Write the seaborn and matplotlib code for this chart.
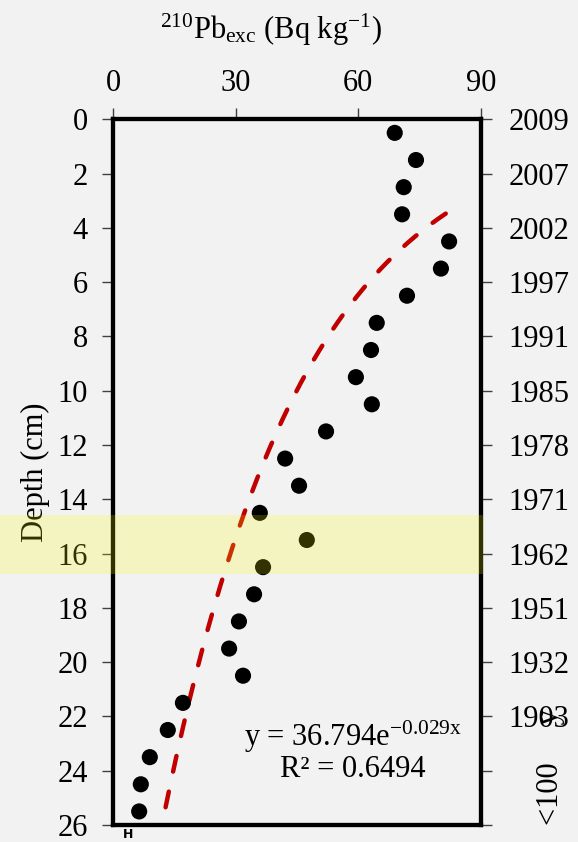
import numpy as np
import pandas as pd
import matplotlib
matplotlib.use("Agg")
import matplotlib.pyplot as plt
import seaborn as sns
from matplotlib.patches import Rectangle
from matplotlib.transforms import blended_transform_factory

# ---------------- data ----------------
depth = [0.5, 1.5, 2.5, 3.5, 4.5, 5.5, 6.5, 7.5, 8.5, 9.5, 10.5, 11.5, 12.5,
         13.5, 14.5, 15.5, 16.5, 17.5, 18.5, 19.5, 20.5, 21.5, 22.5, 23.5,
         24.5, 25.5]
pb_exc = [68.9, 74.1, 71.1, 70.7, 82.2, 80.2, 71.9, 64.5, 63.1, 59.4, 63.3,
          52.1, 42.1, 45.5, 35.9, 47.4, 36.7, 34.5, 30.8, 28.4, 31.8, 17.1,
          13.4, 9.0, 6.8, 6.4]
fit_a = 36.794
fit_b = -0.029
r2 = 0.6494
x_ticks = [0, 30, 60, 90]
depth_ticks = [0, 2, 4, 6, 8, 10, 12, 14, 16, 18, 20, 22, 24, 26]
year_labels = ["2009", "2007", "2002", "1997", "1991", "1985", "1978",
               "1971", "1962", "1951", "1932", "1903", "", ""]
band_depth = [14.58, 16.76]

# ---------------- style ----------------
sns.set_theme(style="white")
plt.rcParams["font.family"] = ["Liberation Serif", "DejaVu Serif"]
plt.rcParams["mathtext.fontset"] = "custom"
plt.rcParams["mathtext.rm"] = "Liberation Serif"
plt.rcParams["mathtext.it"] = "Liberation Serif:italic"
plt.rcParams["mathtext.bf"] = "Liberation Serif:bold"
for k in ["text.color", "axes.labelcolor", "xtick.labelcolor", "ytick.labelcolor"]:
    plt.rcParams[k] = "black"

BG = "#f2f2f2"
FS = 22

fig = plt.figure(figsize=(5.78, 8.42), dpi=100, facecolor=BG)
L, R, T, B = 113, 481, 119.3, 825
W, H = 578, 842
ax = fig.add_axes([L / W, 1 - B / H, (R - L) / W, (B - T) / H])
ax.set_facecolor(BG)

df = pd.DataFrame({"Pb": pb_exc, "Depth": depth})
sns.scatterplot(data=df, x="Pb", y="Depth", ax=ax, color="black", s=135,
                edgecolor="none", zorder=3)

# exponential trendline: depth = a * exp(b * Pb) over the data range
pb_line = np.linspace(min(pb_exc), max(pb_exc), 300)
fit_df = pd.DataFrame({"Pb": pb_line, "Depth": fit_a * np.exp(fit_b * pb_line)})
sns.lineplot(data=fit_df, x="Pb", y="Depth", ax=ax, color="#c00000",
             linewidth=3.2, sort=False, zorder=2)
ln = ax.lines[-1]
ln.set_linestyle((0, (3.6, 4.6)))
ln.set_dash_capstyle("round")

ax.set_xlim(0, 90)
ax.set_ylim(26, 0)
ax.xaxis.tick_top()
ax.xaxis.set_label_position("top")
ax.set_xticks(x_ticks)
ax.set_xticklabels([str(v) for v in x_ticks])
ax.set_yticks(depth_ticks)
ax.set_yticklabels([str(v) for v in depth_ticks])
ax.set_xlabel("")
ax.set_ylabel("Depth (cm)", fontsize=FS)
ax.yaxis.set_label_coords(-0.17, 0.5)
ax.tick_params(axis="x", which="both", top=True, bottom=False, direction="out",
               length=8, width=1, color="#404040", labelsize=FS, pad=7)
ax.tick_params(axis="y", which="both", left=True, right=False, direction="out",
               length=8, width=1, color="#404040", labelsize=FS, pad=10)
for s in ax.spines.values():
    s.set_linewidth(3)
    s.set_color("black")

ax2 = ax.twinx()
ax2.set_ylim(26, 0)
ax2.set_yticks(depth_ticks)
ax2.set_yticklabels(year_labels)
ax2.tick_params(axis="y", direction="out", length=8, width=1, color="#404040",
                labelsize=FS, pad=12)
for s in ax2.spines.values():
    s.set_linewidth(3)
    s.set_color("black")
ax2.grid(False)
ax.grid(False)

ax2.text(1.19, 23.85, "<100     y",
         transform=blended_transform_factory(ax.transAxes, ax.transData),
         rotation=90, ha="center", va="center", fontsize=FS, clip_on=False)

# equation
ax.text(58.7, 22.75, r"y = 36.794e$^{\mathrm{-0.029x}}$", ha="center", va="center",
        fontsize=FS)
ax.text(58.7, 23.95, f"R² = {r2}", ha="center", va="center", fontsize=FS)

# title
fig.text(271 / W, 1 - 30 / H, r"$^{210}$Pb$_{\mathrm{exc}}$ (Bq kg$^{\mathrm{-1}}$)",
         ha="center", va="center", fontsize=FS)

# small error-bar-like glyph at the bottom
fig.text(128 / W, 1 - 841 / H, "H", ha="center", va="bottom", fontsize=9,
         fontweight="bold", family="DejaVu Sans")

# highlight band across the figure
tr = blended_transform_factory(fig.transFigure, ax.transData)
band = Rectangle((0, band_depth[0]), (R + 1.5) / W, band_depth[1] - band_depth[0],
                 transform=tr, facecolor="yellow", alpha=0.2, edgecolor="none",
                 zorder=10, clip_on=False)
fig.add_artist(band)

fig.savefig("out.png", dpi=100, facecolor=BG)
